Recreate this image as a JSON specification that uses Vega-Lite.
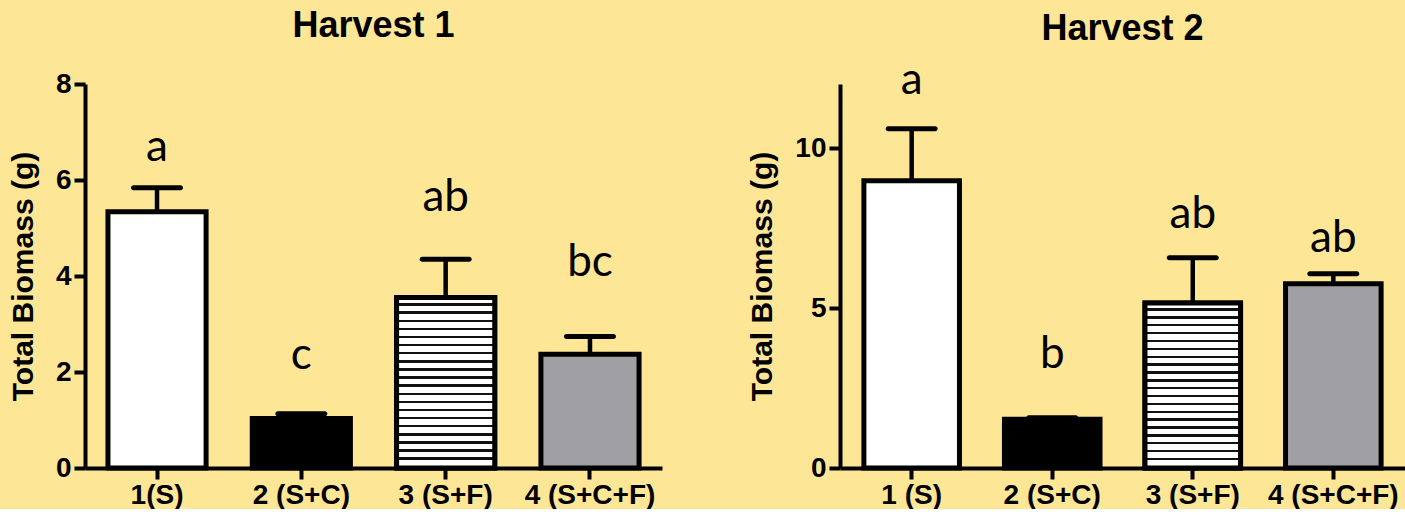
{
  "$schema": "https://vega.github.io/schema/vega-lite/v6.json",
  "background": "#FEE697",
  "padding": {"left": 8, "top": 8, "right": 0, "bottom": 0},
  "spacing": 85,
  "datasets": {
    "h1": [
      {"treatment": "1(S)", "group": "1", "biomass": 5.34, "upper": 5.84, "letter": "a", "letter_at": 6.4},
      {"treatment": "2 (S+C)", "group": "2", "biomass": 1.03, "upper": 1.13, "letter": "c", "letter_at": 2.06},
      {"treatment": "3 (S+F)", "group": "3", "biomass": 3.55, "upper": 4.35, "letter": "ab", "letter_at": 5.35},
      {"treatment": "4 (S+C+F)", "group": "4", "biomass": 2.37, "upper": 2.74, "letter": "bc", "letter_at": 4.0}
    ],
    "h2": [
      {"treatment": "1 (S)", "group": "1", "biomass": 8.98, "upper": 10.6, "letter": "a", "letter_at": 11.68},
      {"treatment": "2 (S+C)", "group": "2", "biomass": 1.52, "upper": 1.57, "letter": "b", "letter_at": 3.13},
      {"treatment": "3 (S+F)", "group": "3", "biomass": 5.16, "upper": 6.57, "letter": "ab", "letter_at": 7.5},
      {"treatment": "4 (S+C+F)", "group": "4", "biomass": 5.76, "upper": 6.07, "letter": "ab", "letter_at": 6.75}
    ]
  },
  "hconcat": [
    {
      "title": {"text": "Harvest 1", "offset": 25},
      "width": 577,
      "height": 384,
      "data": {"name": "h1"},
      "encoding": {
        "x": {"field": "treatment", "type": "nominal", "sort": null,
              "scale": {"paddingInner": 0.32, "paddingOuter": 0.159},
              "axis": {"title": null}},
        "y": {"type": "quantitative", "scale": {"domain": [0, 8]},
              "axis": {"values": [0, 2, 4, 6, 8], "title": "Total Biomass (g)", "labelFontSize": 28}}
      },
      "layer": [
        {"mark": {"type": "rule", "strokeWidth": 4.5, "color": "black"},
         "encoding": {"y": {"field": "biomass", "type": "quantitative"}, "y2": {"field": "upper"}}},
        {"mark": {"type": "tick", "size": 52, "thickness": 5, "color": "black", "opacity": 1, "cornerRadius": 2.5},
         "encoding": {"y": {"field": "upper", "type": "quantitative"}}},
        {"mark": {"type": "bar", "stroke": "black", "strokeWidth": 5, "strokeJoin": "miter"},
         "encoding": {"y": {"field": "biomass", "type": "quantitative"},
                      "fill": {"field": "group", "type": "nominal", "legend": null,
                               "scale": {"domain": ["1", "2", "3", "4"], "range": ["#ffffff", "#000000", "#ffffff", "#a09fa4"]}}}},
        {"transform": [{"filter": "datum.group == '3'"}],
         "mark": {"type": "bar", "stroke": "black", "strokeWidth": 5,
                  "fill": {"gradient": "linear", "x1": 0, "y1": 0, "x2": 0, "y2": 1, "stops": [
                    {"offset": 0, "color": "#ffffff"}, {"offset": 0.0333, "color": "#ffffff"}, {"offset": 0.0333, "color": "#111111"}, {"offset": 0.0476, "color": "#111111"},
                    {"offset": 0.0476, "color": "#ffffff"}, {"offset": 0.081, "color": "#ffffff"}, {"offset": 0.081, "color": "#111111"}, {"offset": 0.0952, "color": "#111111"},
                    {"offset": 0.0952, "color": "#ffffff"}, {"offset": 0.1286, "color": "#ffffff"}, {"offset": 0.1286, "color": "#111111"}, {"offset": 0.1429, "color": "#111111"},
                    {"offset": 0.1429, "color": "#ffffff"}, {"offset": 0.1762, "color": "#ffffff"}, {"offset": 0.1762, "color": "#111111"}, {"offset": 0.1905, "color": "#111111"},
                    {"offset": 0.1905, "color": "#ffffff"}, {"offset": 0.2238, "color": "#ffffff"}, {"offset": 0.2238, "color": "#111111"}, {"offset": 0.2381, "color": "#111111"},
                    {"offset": 0.2381, "color": "#ffffff"}, {"offset": 0.2714, "color": "#ffffff"}, {"offset": 0.2714, "color": "#111111"}, {"offset": 0.2857, "color": "#111111"},
                    {"offset": 0.2857, "color": "#ffffff"}, {"offset": 0.319, "color": "#ffffff"}, {"offset": 0.319, "color": "#111111"}, {"offset": 0.3333, "color": "#111111"},
                    {"offset": 0.3333, "color": "#ffffff"}, {"offset": 0.3667, "color": "#ffffff"}, {"offset": 0.3667, "color": "#111111"}, {"offset": 0.381, "color": "#111111"},
                    {"offset": 0.381, "color": "#ffffff"}, {"offset": 0.4143, "color": "#ffffff"}, {"offset": 0.4143, "color": "#111111"}, {"offset": 0.4286, "color": "#111111"},
                    {"offset": 0.4286, "color": "#ffffff"}, {"offset": 0.4619, "color": "#ffffff"}, {"offset": 0.4619, "color": "#111111"}, {"offset": 0.4762, "color": "#111111"},
                    {"offset": 0.4762, "color": "#ffffff"}, {"offset": 0.5095, "color": "#ffffff"}, {"offset": 0.5095, "color": "#111111"}, {"offset": 0.5238, "color": "#111111"},
                    {"offset": 0.5238, "color": "#ffffff"}, {"offset": 0.5571, "color": "#ffffff"}, {"offset": 0.5571, "color": "#111111"}, {"offset": 0.5714, "color": "#111111"},
                    {"offset": 0.5714, "color": "#ffffff"}, {"offset": 0.6048, "color": "#ffffff"}, {"offset": 0.6048, "color": "#111111"}, {"offset": 0.619, "color": "#111111"},
                    {"offset": 0.619, "color": "#ffffff"}, {"offset": 0.6524, "color": "#ffffff"}, {"offset": 0.6524, "color": "#111111"}, {"offset": 0.6667, "color": "#111111"},
                    {"offset": 0.6667, "color": "#ffffff"}, {"offset": 0.7, "color": "#ffffff"}, {"offset": 0.7, "color": "#111111"}, {"offset": 0.7143, "color": "#111111"},
                    {"offset": 0.7143, "color": "#ffffff"}, {"offset": 0.7476, "color": "#ffffff"}, {"offset": 0.7476, "color": "#111111"}, {"offset": 0.7619, "color": "#111111"},
                    {"offset": 0.7619, "color": "#ffffff"}, {"offset": 0.7952, "color": "#ffffff"}, {"offset": 0.7952, "color": "#111111"}, {"offset": 0.8095, "color": "#111111"},
                    {"offset": 0.8095, "color": "#ffffff"}, {"offset": 0.8429, "color": "#ffffff"}, {"offset": 0.8429, "color": "#111111"}, {"offset": 0.8571, "color": "#111111"},
                    {"offset": 0.8571, "color": "#ffffff"}, {"offset": 0.8905, "color": "#ffffff"}, {"offset": 0.8905, "color": "#111111"}, {"offset": 0.9048, "color": "#111111"},
                    {"offset": 0.9048, "color": "#ffffff"}, {"offset": 0.9381, "color": "#ffffff"}, {"offset": 0.9381, "color": "#111111"}, {"offset": 0.9524, "color": "#111111"},
                    {"offset": 0.9524, "color": "#ffffff"}, {"offset": 0.9857, "color": "#ffffff"}, {"offset": 0.9857, "color": "#111111"}, {"offset": 1, "color": "#111111"}
                  ]}},
         "encoding": {"y": {"field": "biomass", "type": "quantitative"}}},
        {"mark": {"type": "text", "font": "Lato", "fontSize": 44, "baseline": "alphabetic", "align": "center", "color": "black"},
         "encoding": {"y": {"field": "letter_at", "type": "quantitative"}, "text": {"field": "letter"}}}
      ]
    },
    {
      "title": {"text": "Harvest 2", "offset": 11},
      "width": 565,
      "height": 384,
      "data": {"name": "h2"},
      "encoding": {
        "x": {"field": "treatment", "type": "nominal", "sort": null,
              "scale": {"paddingInner": 0.32, "paddingOuter": 0.17},
              "axis": {"title": null}},
        "y": {"type": "quantitative", "scale": {"domain": [0, 12]},
              "axis": {"values": [0, 5, 10], "title": "Total Biomass (g)", "labelFontSize": 28}}
      },
      "layer": [
        {"mark": {"type": "rule", "strokeWidth": 4.5, "color": "black"},
         "encoding": {"y": {"field": "biomass", "type": "quantitative"}, "y2": {"field": "upper"}}},
        {"mark": {"type": "tick", "size": 52, "thickness": 5, "color": "black", "opacity": 1, "cornerRadius": 2.5},
         "encoding": {"y": {"field": "upper", "type": "quantitative"}}},
        {"mark": {"type": "bar", "stroke": "black", "strokeWidth": 5, "strokeJoin": "miter"},
         "encoding": {"y": {"field": "biomass", "type": "quantitative"},
                      "fill": {"field": "group", "type": "nominal", "legend": null,
                               "scale": {"domain": ["1", "2", "3", "4"], "range": ["#ffffff", "#000000", "#ffffff", "#a09fa4"]}}}},
        {"transform": [{"filter": "datum.group == '3'"}],
         "mark": {"type": "bar", "stroke": "black", "strokeWidth": 5,
                  "fill": {"gradient": "linear", "x1": 0, "y1": 0, "x2": 0, "y2": 1, "stops": [
                    {"offset": 0, "color": "#ffffff"}, {"offset": 0.0333, "color": "#ffffff"}, {"offset": 0.0333, "color": "#111111"}, {"offset": 0.0476, "color": "#111111"},
                    {"offset": 0.0476, "color": "#ffffff"}, {"offset": 0.081, "color": "#ffffff"}, {"offset": 0.081, "color": "#111111"}, {"offset": 0.0952, "color": "#111111"},
                    {"offset": 0.0952, "color": "#ffffff"}, {"offset": 0.1286, "color": "#ffffff"}, {"offset": 0.1286, "color": "#111111"}, {"offset": 0.1429, "color": "#111111"},
                    {"offset": 0.1429, "color": "#ffffff"}, {"offset": 0.1762, "color": "#ffffff"}, {"offset": 0.1762, "color": "#111111"}, {"offset": 0.1905, "color": "#111111"},
                    {"offset": 0.1905, "color": "#ffffff"}, {"offset": 0.2238, "color": "#ffffff"}, {"offset": 0.2238, "color": "#111111"}, {"offset": 0.2381, "color": "#111111"},
                    {"offset": 0.2381, "color": "#ffffff"}, {"offset": 0.2714, "color": "#ffffff"}, {"offset": 0.2714, "color": "#111111"}, {"offset": 0.2857, "color": "#111111"},
                    {"offset": 0.2857, "color": "#ffffff"}, {"offset": 0.319, "color": "#ffffff"}, {"offset": 0.319, "color": "#111111"}, {"offset": 0.3333, "color": "#111111"},
                    {"offset": 0.3333, "color": "#ffffff"}, {"offset": 0.3667, "color": "#ffffff"}, {"offset": 0.3667, "color": "#111111"}, {"offset": 0.381, "color": "#111111"},
                    {"offset": 0.381, "color": "#ffffff"}, {"offset": 0.4143, "color": "#ffffff"}, {"offset": 0.4143, "color": "#111111"}, {"offset": 0.4286, "color": "#111111"},
                    {"offset": 0.4286, "color": "#ffffff"}, {"offset": 0.4619, "color": "#ffffff"}, {"offset": 0.4619, "color": "#111111"}, {"offset": 0.4762, "color": "#111111"},
                    {"offset": 0.4762, "color": "#ffffff"}, {"offset": 0.5095, "color": "#ffffff"}, {"offset": 0.5095, "color": "#111111"}, {"offset": 0.5238, "color": "#111111"},
                    {"offset": 0.5238, "color": "#ffffff"}, {"offset": 0.5571, "color": "#ffffff"}, {"offset": 0.5571, "color": "#111111"}, {"offset": 0.5714, "color": "#111111"},
                    {"offset": 0.5714, "color": "#ffffff"}, {"offset": 0.6048, "color": "#ffffff"}, {"offset": 0.6048, "color": "#111111"}, {"offset": 0.619, "color": "#111111"},
                    {"offset": 0.619, "color": "#ffffff"}, {"offset": 0.6524, "color": "#ffffff"}, {"offset": 0.6524, "color": "#111111"}, {"offset": 0.6667, "color": "#111111"},
                    {"offset": 0.6667, "color": "#ffffff"}, {"offset": 0.7, "color": "#ffffff"}, {"offset": 0.7, "color": "#111111"}, {"offset": 0.7143, "color": "#111111"},
                    {"offset": 0.7143, "color": "#ffffff"}, {"offset": 0.7476, "color": "#ffffff"}, {"offset": 0.7476, "color": "#111111"}, {"offset": 0.7619, "color": "#111111"},
                    {"offset": 0.7619, "color": "#ffffff"}, {"offset": 0.7952, "color": "#ffffff"}, {"offset": 0.7952, "color": "#111111"}, {"offset": 0.8095, "color": "#111111"},
                    {"offset": 0.8095, "color": "#ffffff"}, {"offset": 0.8429, "color": "#ffffff"}, {"offset": 0.8429, "color": "#111111"}, {"offset": 0.8571, "color": "#111111"},
                    {"offset": 0.8571, "color": "#ffffff"}, {"offset": 0.8905, "color": "#ffffff"}, {"offset": 0.8905, "color": "#111111"}, {"offset": 0.9048, "color": "#111111"},
                    {"offset": 0.9048, "color": "#ffffff"}, {"offset": 0.9381, "color": "#ffffff"}, {"offset": 0.9381, "color": "#111111"}, {"offset": 0.9524, "color": "#111111"},
                    {"offset": 0.9524, "color": "#ffffff"}, {"offset": 0.9857, "color": "#ffffff"}, {"offset": 0.9857, "color": "#111111"}, {"offset": 1, "color": "#111111"}
                  ]}},
         "encoding": {"y": {"field": "biomass", "type": "quantitative"}}},
        {"mark": {"type": "text", "font": "Lato", "fontSize": 44, "baseline": "alphabetic", "align": "center", "color": "black"},
         "encoding": {"y": {"field": "letter_at", "type": "quantitative"}, "text": {"field": "letter"}}}
      ]
    }
  ],
  "config": {
    "view": {"stroke": null},
    "font": "Liberation Sans",
    "title": {"font": "Liberation Sans", "fontSize": 36, "fontWeight": "bold", "color": "black", "anchor": "middle", "frame": "group", "baseline": "alphabetic"},
    "axis": {
      "grid": false,
      "domainColor": "black", "domainWidth": 4,
      "tickColor": "black", "tickWidth": 4, "tickSize": 11,
      "labelFont": "Liberation Sans", "labelFontWeight": "bold", "labelColor": "black",
      "titleFont": "Liberation Sans", "titleFontWeight": "bold", "titleColor": "black"
    },
    "axisX": {"labelAngle": 0, "labelFontSize": 28, "labelPadding": 2},
    "axisY": {"labelFontSize": 28, "labelPadding": 3, "titleFontSize": 30, "titlePadding": 17}
  }
}
